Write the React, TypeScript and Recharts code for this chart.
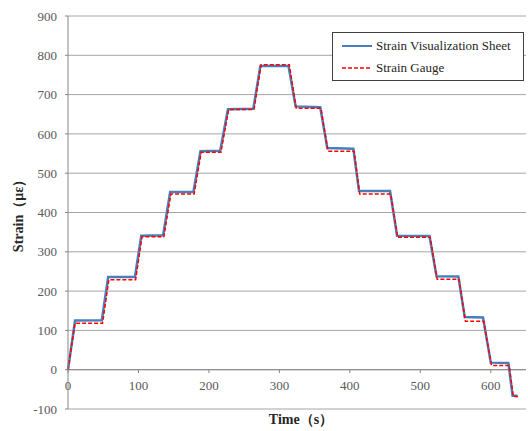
import React from "react";
import {
  CartesianGrid,
  Legend,
  Line,
  LineChart,
  ReferenceLine,
  XAxis,
  YAxis,
} from "recharts";

// time (s) and strain (με)
const sheetTime = [0, 10, 48, 57, 95, 104, 135, 145, 178, 188, 216, 227, 263, 273, 313, 323, 358, 368, 405, 413, 457, 467, 513, 523, 554, 563, 589, 600, 625, 631, 638];
const sheetStrain = [0, 125, 126, 236, 236, 341, 342, 452, 452, 556, 557, 663, 664, 773, 773, 670, 668, 564, 562, 455, 455, 341, 340, 238, 237, 134, 133, 18, 17, -66, -66];

const gaugeTime = [0, 10, 49, 58, 96, 105, 136, 146, 179, 189, 217, 228, 264, 274, 314, 324, 359, 369, 406, 414, 458, 468, 514, 524, 555, 564, 590, 601, 626, 632, 639];
const gaugeStrain = [0, 118, 118, 229, 229, 338, 338, 447, 447, 553, 553, 662, 662, 776, 776, 665, 665, 556, 556, 447, 447, 337, 337, 230, 230, 123, 123, 11, 11, -68, -68];

const xTicks = [0, 100, 200, 300, 400, 500, 600];
const yTicks = [-100, 0, 100, 200, 300, 400, 500, 600, 700, 800, 900];
const seriesOrder = ["Strain Visualization Sheet", "Strain Gauge"];

const sheetData = sheetTime.map((t, i) => ({ t, v: sheetStrain[i] }));
const gaugeData = gaugeTime.map((t, i) => ({ t, v: gaugeStrain[i] }));

const FONT = "'Liberation Serif', 'Times New Roman', serif";

// x ticks sit under the zero line, not at the bottom of the plot
function TimeTick(props: any) {
  const { x, y, payload } = props;
  const zeroY = y - 39;
  return (
    <g>
      <line x1={x} x2={x} y1={zeroY} y2={zeroY + 3} stroke="#868686" />
      <text
        x={x}
        y={zeroY + 20}
        textAnchor="middle"
        fontFamily={FONT}
        fontSize={13}
        fill="#595959"
      >
        {payload.value}
      </text>
    </g>
  );
}

function LegendBox({ payload }: any) {
  const items = [...(payload ?? [])].sort(
    (a, b) => seriesOrder.indexOf(a.value) - seriesOrder.indexOf(b.value)
  );
  return (
    <div
      style={{
        width: 192,
        height: 49,
        border: "1px solid #404040",
        background: "#fff",
        boxSizing: "border-box",
        padding: "2px 0 0 9px",
        fontFamily: FONT,
        fontSize: 13,
        color: "#262626",
      }}
    >
      {items.map((item: any) => (
        <div
          key={item.value}
          style={{ display: "flex", alignItems: "center", height: 22 }}
        >
          <svg width={31} height={10} style={{ marginRight: 3 }}>
            <line
              x1={0}
              x2={30}
              y1={5}
              y2={5}
              stroke={item.color}
              strokeWidth={item.payload?.strokeDasharray ? 1.5 : 2}
              strokeDasharray={item.payload?.strokeDasharray}
            />
          </svg>
          <span>{item.value}</span>
        </div>
      ))}
    </div>
  );
}

export default function App() {
  return (
    <div style={{ position: "absolute", left: 0, top: 0, background: "#fff" }}>
      <LineChart
        width={528}
        height={431}
        margin={{ top: 16, right: 2, bottom: 0, left: 8 }}
      >
        <CartesianGrid vertical={false} stroke="#a6a6a6" />
        <XAxis
          type="number"
          dataKey="t"
          domain={[0, 650]}
          ticks={xTicks}
          axisLine={false}
          tickLine={false}
          tickSize={0}
          tickMargin={0}
          height={22}
          tick={<TimeTick />}
          label={{
            value: "Time（s）",
            position: "insideTop",
            offset: 5,
            dx: 4,
            fontFamily: FONT,
            fontSize: 14,
            fontWeight: "bold",
            fill: "#262626",
          }}
        />
        <YAxis
          type="number"
          domain={[-100, 900]}
          ticks={yTicks}
          width={60}
          axisLine={{ stroke: "#868686" }}
          tickLine={{ stroke: "#868686" }}
          tickSize={3}
          tickMargin={8}
          tick={{ fontFamily: FONT, fontSize: 13, fill: "#595959" }}
          label={{
            value: "Strain（με）",
            angle: -90,
            position: "insideLeft",
            offset: 10,
            style: { textAnchor: "middle" },
            fontFamily: FONT,
            fontSize: 14,
            fontWeight: "bold",
            fill: "#262626",
          }}
        />
        <ReferenceLine y={0} stroke="#868686" />
        <Legend
          layout="vertical"
          verticalAlign="middle"
          align="center"
          wrapperStyle={{ top: 32, left: 332, width: 192, height: 49 }}
          content={<LegendBox />}
        />
        <Line
          data={sheetData}
          dataKey="v"
          name="Strain Visualization Sheet"
          type="linear"
          stroke="#4a7ebb"
          strokeWidth={2.5}
          dot={false}
          isAnimationActive={false}
        />
        <Line
          data={gaugeData}
          dataKey="v"
          name="Strain Gauge"
          type="linear"
          stroke="#ff0000"
          strokeWidth={1.5}
          strokeDasharray="4 2"
          dot={false}
          isAnimationActive={false}
        />
      </LineChart>
    </div>
  );
}
